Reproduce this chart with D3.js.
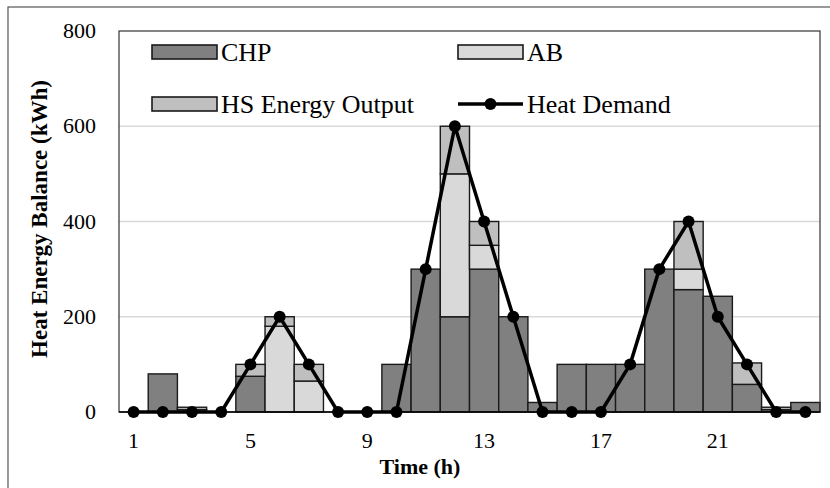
<!DOCTYPE html>
<html>
<head>
<meta charset="utf-8">
<script src="https://d3js.org/d3.v7.min.js"></script>
<style>
    body { margin: 0; background: #fff; }
    svg text { font-family: "Liberation Serif", "Times New Roman", serif; fill: #000; }
</style>
</head>
<body>
<div id="chart"></div>
<script>
// data
const hours = d3.range(1, 25);
const chp    = [0, 80, 5, 0, 75, 0, 0, 0, 0, 100, 300, 200, 300, 200, 20, 100, 100, 100, 300, 257, 243, 58, 5, 20];
const ab     = [0, 0, 0, 0, 0, 180, 65, 0, 0, 0, 0, 300, 50, 0, 0, 0, 0, 0, 0, 43, 0, 0, 0, 0];
const hs     = [0, 0, 5, 0, 25, 20, 35, 0, 0, 0, 0, 100, 50, 0, 0, 0, 0, 0, 0, 100, 0, 45, 5, 0];
const demand = [0, 0, 0, 0, 100, 200, 100, 0, 0, 0, 300, 600, 400, 200, 0, 0, 0, 100, 300, 400, 200, 100, 0, 0];
const yTicks = [0, 200, 400, 600, 800];
const xLabels = [1, 5, 9, 13, 17, 21];

const W = 830, H = 488;
const plot = { left: 119, top: 31, right: 820, bottom: 412 };

const svg = d3.select("#chart").append("svg")
    .attr("width", W).attr("height", H);

// outer frame (cropped at right and bottom)
svg.append("rect")
    .attr("x", 8).attr("y", 7)
    .attr("width", W).attr("height", H)
    .attr("fill", "none").attr("stroke", "#555").attr("stroke-width", 1.2);

const x = d3.scaleBand().domain(hours).range([plot.left, plot.right]).padding(0);
const y = d3.scaleLinear().domain([0, 800]).range([plot.bottom, plot.top]);

// gridlines
svg.append("g")
    .selectAll("line")
    .data(yTicks.filter(d => d > 0 && d < 800))
    .join("line")
    .attr("x1", plot.left).attr("x2", plot.right)
    .attr("y1", d => y(d)).attr("y2", d => y(d))
    .attr("stroke", "#d9d9d9").attr("stroke-width", 1.5);

// stacked bars
const keys = ["CHP", "AB", "HS"];
const color = { CHP: "#808080", AB: "#d9d9d9", HS: "#bfbfbf" };
const table = hours.map((h, i) => ({ hour: h, CHP: chp[i], AB: ab[i], HS: hs[i] }));
const stacked = d3.stack().keys(keys)(table);

svg.append("g")
    .selectAll("g")
    .data(stacked)
    .join("g")
    .attr("fill", d => color[d.key])
    .selectAll("rect")
    .data(d => d.filter(p => p[1] - p[0] > 0))
    .join("rect")
    .attr("x", d => x(d.data.hour))
    .attr("width", x.bandwidth())
    .attr("y", d => y(d[1]))
    .attr("height", d => y(d[0]) - y(d[1]))
    .attr("stroke", "#1a1a1a").attr("stroke-width", 1.4);

// plot border
svg.append("rect")
    .attr("x", plot.left).attr("y", plot.top)
    .attr("width", plot.right - plot.left).attr("height", plot.bottom - plot.top)
    .attr("fill", "none").attr("stroke", "#333").attr("stroke-width", 1.2);

// baseline
svg.append("line")
    .attr("x1", plot.left).attr("x2", plot.right)
    .attr("y1", y(0)).attr("y2", y(0))
    .attr("stroke", "#000").attr("stroke-width", 1.5);

// heat demand line
const cx = i => x(hours[i]) + x.bandwidth() / 2;
svg.append("path")
    .datum(demand)
    .attr("fill", "none")
    .attr("stroke", "#000")
    .attr("stroke-width", 3.5)
    .attr("stroke-linejoin", "round")
    .attr("d", d3.line().x((d, i) => cx(i)).y(d => y(d)));

svg.append("g")
    .selectAll("circle")
    .data(demand)
    .join("circle")
    .attr("cx", (d, i) => cx(i))
    .attr("cy", d => y(d))
    .attr("r", 6)
    .attr("fill", "#000");

// y axis labels
svg.append("g")
    .selectAll("text")
    .data(yTicks)
    .join("text")
    .attr("x", 96)
    .attr("y", d => y(d) + 7)
    .attr("text-anchor", "end")
    .style("font-size", "22px")
    .text(d => d);

// x axis labels
svg.append("g")
    .selectAll("text")
    .data(xLabels)
    .join("text")
    .attr("x", d => x(d) + x.bandwidth() / 2)
    .attr("y", 448)
    .attr("text-anchor", "middle")
    .style("font-size", "22px")
    .text(d => d);

// axis titles
svg.append("text")
    .attr("x", 420).attr("y", 474)
    .attr("text-anchor", "middle")
    .style("font-size", "22px").style("font-weight", "bold")
    .text("Time (h)");

svg.append("text")
    .attr("transform", "translate(47,219) rotate(-90)")
    .attr("text-anchor", "middle")
    .style("font-size", "23px").style("font-weight", "bold")
    .text("Heat Energy Balance (kWh)");

// legend
const legend = [
    { label: "CHP", type: "CHP", x: 152, y: 52 },
    { label: "AB", type: "AB", x: 458, y: 52 },
    { label: "HS Energy Output", type: "HS", x: 152, y: 104 },
    { label: "Heat Demand", type: "line", x: 458, y: 104 }
];
const lg = svg.append("g").selectAll("g").data(legend).join("g")
    .attr("transform", d => `translate(${d.x},${d.y})`);

lg.filter(d => d.type !== "line").append("rect")
    .attr("x", 0).attr("y", -7).attr("width", 65).attr("height", 14)
    .attr("fill", d => color[d.type])
    .attr("stroke", "#1a1a1a").attr("stroke-width", 1.6);

const ll = lg.filter(d => d.type === "line");
ll.append("line").attr("x1", 0).attr("x2", 65).attr("y1", 0).attr("y2", 0)
    .attr("stroke", "#000").attr("stroke-width", 3.5);
ll.append("circle").attr("cx", 32.5).attr("cy", 0).attr("r", 6).attr("fill", "#000");

lg.append("text")
    .attr("x", 69).attr("y", 9)
    .style("font-size", "26px")
    .text(d => d.label);
</script>
</body>
</html>
